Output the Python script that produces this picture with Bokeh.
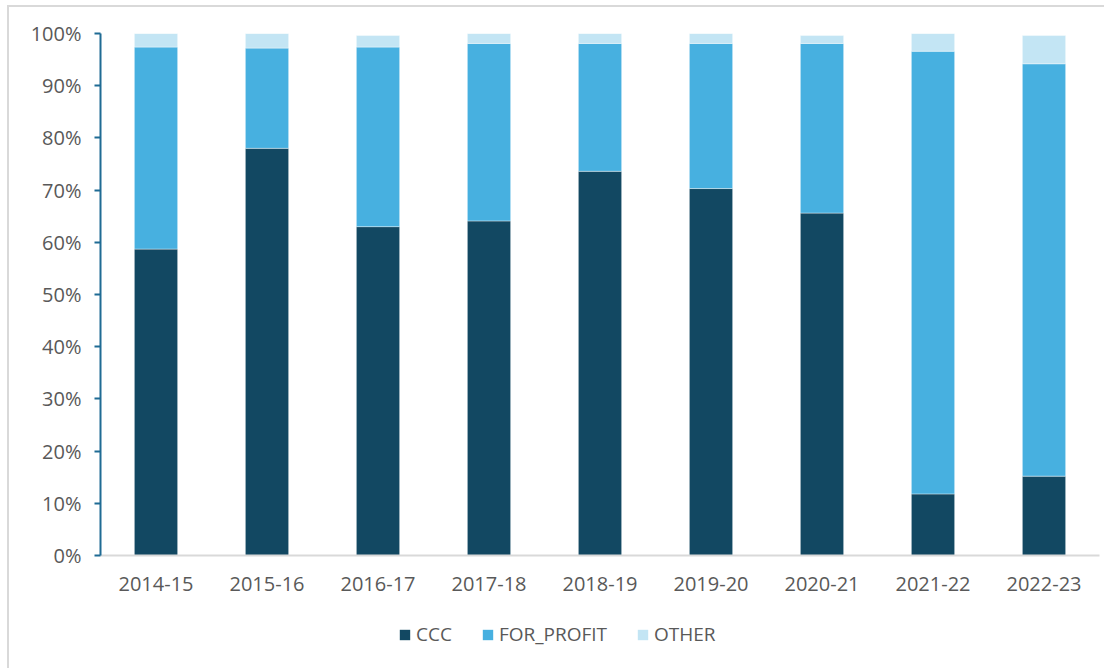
from bokeh.plotting import figure
from bokeh.layouts import column
from bokeh.models import Legend, LegendItem, PrintfTickFormatter, FixedTicker, Range1d, FactorRange
from bokeh.embed import file_html
from bokeh.resources import INLINE

years = ["2014-15", "2015-16", "2016-17", "2017-18", "2018-19", "2019-20", "2020-21", "2021-22", "2022-23"]
ccc = [58.7, 78.0, 63.0, 64.1, 73.6, 70.3, 65.6, 11.8, 15.2]
for_profit = [38.7, 19.2, 34.4, 34.0, 24.5, 27.8, 32.5, 84.8, 79.0]
other = [2.6, 2.8, 2.2, 1.9, 1.9, 1.9, 1.5, 3.4, 5.4]

series = ["CCC", "FOR_PROFIT", "OTHER"]
colors = ["#124862", "#47B0E0", "#C3E5F4"]

data = {"year": years, "CCC": ccc, "FOR_PROFIT": for_profit, "OTHER": other}

FONT = "Open Sans"
TXT = "#595959"

p = figure(x_range=FactorRange(*years, range_padding=0), y_range=Range1d(0, 100),
           width=1095, height=603, output_backend="svg", toolbar_location=None,
           min_border_left=91, min_border_right=5, min_border_top=26, min_border_bottom=55)

rs = p.vbar_stack(series, x="year", width=0.39, source=data, color=colors,
                  line_color="white", line_alpha=0.4, line_width=1)

p.xgrid.visible = False
p.ygrid.visible = False
p.outline_line_color = None
p.border_fill_color = "white"

p.yaxis.ticker = FixedTicker(ticks=list(range(0, 101, 10)))
p.yaxis.formatter = PrintfTickFormatter(format="%d%%")
p.yaxis.axis_line_color = "#1F6B94"
p.yaxis.axis_line_width = 2
p.yaxis.major_tick_line_color = "#1F6B94"
p.yaxis.major_tick_line_width = 2
p.yaxis.major_tick_out = 6
p.yaxis.major_tick_in = 0
p.yaxis.minor_tick_line_color = None
p.yaxis.major_label_text_font = FONT
p.yaxis.major_label_text_font_size = "20px"
p.yaxis.major_label_text_color = TXT
p.yaxis.major_label_standoff = 13

p.xaxis.axis_line_color = "#D9D9D9"
p.xaxis.axis_line_width = 2
p.xaxis.major_tick_line_color = None
p.xaxis.minor_tick_line_color = None
p.xaxis.major_label_text_font = FONT
p.xaxis.major_label_text_font_size = "20px"
p.xaxis.major_label_text_color = TXT
p.xaxis.major_label_standoff = 15

# legend strip (proxy glyphs have zero height, so they draw nothing)
pl = figure(width=1095, height=58, output_backend="svg", toolbar_location=None,
            x_range=Range1d(0, 1), y_range=Range1d(0, 1),
            min_border_left=0, min_border_right=0, min_border_top=0, min_border_bottom=0)
pl.axis.visible = False
pl.grid.visible = False
pl.outline_line_color = None
items = []
for s, c in zip(series, colors):
    r = pl.vbar(x=[0.5], top=[0], bottom=0, width=0.01, fill_color=c, line_color=None)
    items.append(LegendItem(label=s, renderers=[r]))
legend = Legend(items=items, orientation="horizontal", location=(298, 21),
                label_text_font=FONT, label_text_font_size="19px", label_text_color=TXT,
                glyph_width=13, glyph_height=13, label_standoff=5, spacing=29,
                border_line_color=None, background_fill_alpha=0, padding=6, margin=0)
pl.add_layout(legend, "center")

layout = column(p, pl, spacing=0, margin=(5, 0, 0, 7),
                styles={"border-left": "2px solid #D9D9D9", "border-top": "2px solid #D9D9D9"})
open("out.html", "w").write(file_html(layout, INLINE))
